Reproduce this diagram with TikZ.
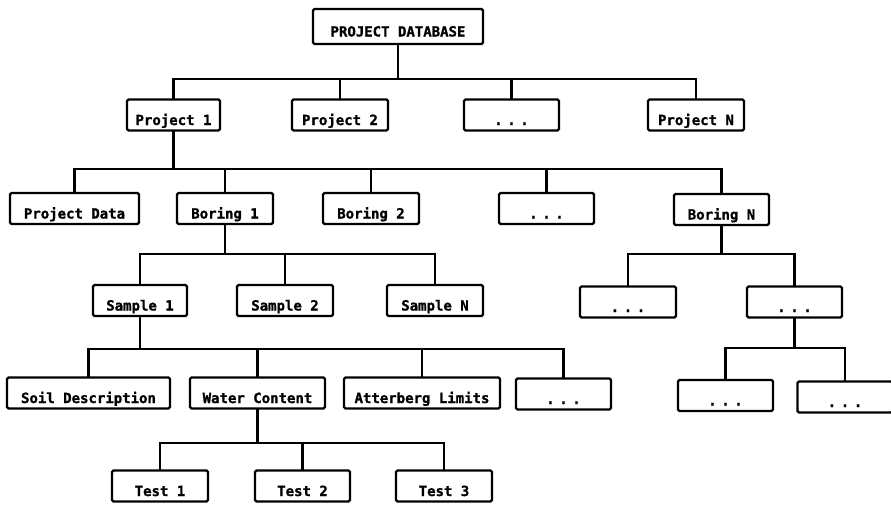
\documentclass[tikz,border=0pt]{standalone}
\usepackage{fontspec}
\newfontfamily\boxfont{DejaVu Sans Mono}[BoldFeatures={FakeBold=1.2}]
\tikzset{
  bx/.style={draw, line width=2.4pt, rounded corners=1.5pt, inner sep=0pt,
    minimum width=#1, minimum height=31pt, text height=25.5pt, text depth=5.5pt,
    font=\boxfont\bfseries\fontsize{14}{15}\selectfont},
  bx/.default=96pt,
  ln/.style={line width=2.4pt, line cap=rect}
}
\newcommand{\dotsx}{.\hspace{4.6pt}.\hspace{4.6pt}.}
\begin{document}
\begin{tikzpicture}[x=1pt,y=-1pt]
\useasboundingbox (0,0) rectangle (891,504);
% level 0
\node[bx=170pt, minimum height=35pt, text height=27.5pt, text depth=7.5pt] (root) at (398,26.5) {PROJECT DATABASE};
% level 1
\node[bx=93pt] (p1) at (173.5,115) {Project 1};
\node[bx] (p2) at (340,115) {Project 2};
\node[bx=95pt] (pd) at (511.5,115) {\dotsx};
\node[bx] (pN) at (696,115) {Project N};
% level 2
\node[bx=129pt] (pdata) at (74.5,208.5) {Project Data};
\node[bx] (b1) at (225,208.5) {Boring 1};
\node[bx] (b2) at (371,208.5) {Boring 2};
\node[bx=95pt] (bd) at (546.5,208.5) {\dotsx};
\node[bx=95pt] (bN) at (721.5,209.5) {Boring N};
% level 3
\node[bx=94pt] (s1) at (140,300.5) {Sample 1};
\node[bx] (s2) at (285,300.5) {Sample 2};
\node[bx] (sN) at (435,300.5) {Sample N};
\node[bx] (n1) at (628,302) {\dotsx};
\node[bx=95pt] (n2) at (794.5,302) {\dotsx};
% level 4
\node[bx=163pt] (soil) at (88.5,393) {Soil Description};
\node[bx=135pt] (water) at (257.5,393) {Water Content};
\node[bx=156pt] (att) at (422,393) {Atterberg Limits};
\node[bx=95pt] (sd) at (563.5,394) {\dotsx};
\node[bx=95pt] (n3) at (725.5,395.5) {\dotsx};
\node[bx=95pt] (n4) at (845,397) {\dotsx};
% level 5
\node[bx] (t1) at (160,486) {Test 1};
\node[bx=95pt] (t2) at (302.5,486) {Test 2};
\node[bx] (t3) at (444,486) {Test 3};
% connectors
\draw[ln] (root.south) -- ++(0,34) coordinate (c0);
\foreach \c in {p1,p2,pd,pN} \draw[ln] (c0) -| (\c.north);
\draw[ln] (p1.south) -- ++(0,37) coordinate (c1);
\foreach \c in {pdata,b1,b2,bd,bN} \draw[ln] (c1) -| (\c.north);
\draw[ln] (b1.south) -- ++(0,29) coordinate (c2);
\foreach \c in {s1,s2,sN} \draw[ln] (c2) -| (\c.north);
\draw[ln] (bN.south) -- ++(0,28) coordinate (c3);
\foreach \c in {n1,n2} \draw[ln] (c3) -| (\c.north);
\draw[ln] (n2.south) -- ++(0,29) coordinate (c4);
\foreach \c in {n3,n4} \draw[ln] (c4) -| (\c.north);
\draw[ln] (s1.south) -- ++(0,32) coordinate (c5);
\foreach \c in {soil,water,att,sd} \draw[ln] (c5) -| (\c.north);
\draw[ln] (water.south) -- ++(0,33) coordinate (c6);
\foreach \c in {t1,t2,t3} \draw[ln] (c6) -| (\c.north);
\end{tikzpicture}
\end{document}
